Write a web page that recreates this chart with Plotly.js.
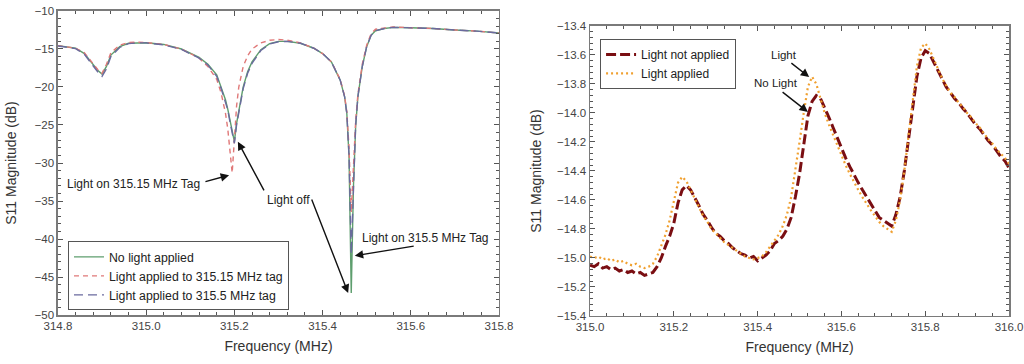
<!DOCTYPE html>
<html>
<head>
<meta charset="utf-8">
<script src="https://cdn.plot.ly/plotly-3.0.1.min.js"></script>
<style>html,body{margin:0;padding:0;background:#fff;}#chart{width:1024px;height:364px;}</style>
</head>
<body>
<div id="chart"></div>
<script>
// ---------- Left panel data (S11 vs frequency, three conditions) ----------
const freqLeft = [314.80,314.82,314.84,314.86,314.88,314.89,314.90,314.91,314.92,314.94,
  314.96,314.98,315.00,315.04,315.08,315.12,315.14,315.16,315.17,315.18,
  315.185,315.19,315.195,315.20,315.205,315.21,315.22,315.23,315.24,315.26,
  315.28,315.30,315.32,315.35,315.38,315.40,315.42,315.44,315.45,315.455,
  315.46,315.465,315.47,315.475,315.48,315.49,315.50,315.51,315.52,315.54,
  315.56,315.60,315.65,315.70,315.75,315.80];
const noLight = [-14.56,-14.7,-14.9,-15.6,-17.1,-17.8,-18.3,-17.3,-15.8,-14.7,
  -14.25,-14.17,-14.17,-14.4,-15.0,-16.1,-17.0,-18.4,-20.0,-21.7,
  -22.9,-24.3,-25.8,-27.2,-24.8,-23.0,-20.0,-18.0,-16.7,-15.1,
  -14.3,-14.0,-14.0,-14.25,-14.9,-15.6,-16.7,-19.1,-21.3,-23.5,
  -29.2,-47.1,-33.1,-25.2,-21.3,-17.3,-14.7,-13.2,-12.6,-12.3,
  -12.15,-12.2,-12.3,-12.5,-12.65,-12.9];
const light31515 = [-14.55,-14.7,-14.9,-15.5,-17.0,-17.7,-18.2,-17.0,-15.5,-14.5,
  -14.15,-14.1,-14.15,-14.4,-15.0,-16.2,-17.3,-19.0,-20.8,-23.5,
  -25.5,-28.5,-31.3,-27.0,-22.5,-20.0,-17.3,-15.9,-15.0,-14.2,
  -13.85,-13.75,-13.85,-14.2,-14.9,-15.6,-16.7,-19.0,-21.2,-23.3,
  -28.0,-36.5,-30.0,-24.5,-21.0,-17.0,-14.5,-13.0,-12.4,-12.2,
  -12.1,-12.2,-12.3,-12.5,-12.65,-12.9];
const light3155 = [-14.6,-14.75,-14.95,-15.7,-17.3,-18.0,-18.6,-17.6,-16.0,-14.8,
  -14.3,-14.2,-14.2,-14.45,-15.05,-16.2,-17.1,-18.6,-20.2,-22.0,
  -23.0,-24.6,-26.0,-27.4,-25.0,-23.2,-20.2,-18.2,-16.9,-15.2,
  -14.35,-14.05,-14.0,-14.25,-14.9,-15.6,-16.7,-19.1,-21.3,-23.5,
  -29.0,-42.0,-32.0,-25.0,-21.3,-17.3,-14.7,-13.2,-12.6,-12.3,
  -12.15,-12.2,-12.3,-12.5,-12.65,-12.9];
const leftNames = ["No light applied","Light applied to 315.15 MHz tag","Light applied to 315.5 MHz tag"];

// ---------- Right panel data ----------
const freqRight = [315.00,315.01,315.02,315.03,315.04,315.05,315.06,315.07,315.08,315.09,
  315.10,315.11,315.12,315.13,315.14,315.15,315.16,315.17,315.18,315.19,
  315.20,315.21,315.22,315.23,315.24,315.25,315.26,315.27,315.28,315.29,
  315.30,315.31,315.32,315.33,315.34,315.35,315.36,315.37,315.38,315.39,
  315.40,315.41,315.42,315.43,315.44,315.45,315.46,315.47,315.48,315.49,
  315.50,315.51,315.52,315.53,315.54,315.55,315.56,315.57,315.58,315.59,
  315.60,315.61,315.62,315.63,315.64,315.65,315.66,315.67,315.68,315.69,
  315.70,315.71,315.72,315.73,315.74,315.75,315.76,315.77,315.78,315.79,
  315.80,315.81,315.82,315.83,315.84,315.85,315.86,315.87,315.88,315.89,
  315.90,315.91,315.92,315.93,315.94,315.95,315.96,315.97,315.98,315.99,316.00];
const lightNotApplied = [-15.05,-15.06,-15.04,-15.07,-15.06,-15.08,-15.07,-15.09,-15.08,-15.10,
  -15.09,-15.11,-15.10,-15.12,-15.11,-15.10,-15.06,-15.00,-14.92,-14.85,
  -14.76,-14.62,-14.53,-14.50,-14.53,-14.58,-14.64,-14.70,-14.74,-14.79,
  -14.83,-14.85,-14.88,-14.90,-14.93,-14.95,-14.97,-14.98,-15.00,-14.99,
  -15.02,-15.00,-14.98,-14.95,-14.90,-14.88,-14.85,-14.80,-14.72,-14.58,
  -14.42,-14.22,-14.02,-13.92,-13.88,-13.90,-13.96,-14.03,-14.10,-14.17,
  -14.25,-14.31,-14.37,-14.43,-14.48,-14.53,-14.58,-14.63,-14.67,-14.72,
  -14.74,-14.76,-14.78,-14.70,-14.58,-14.40,-14.18,-13.95,-13.75,-13.62,
  -13.57,-13.59,-13.65,-13.71,-13.77,-13.82,-13.86,-13.90,-13.93,-13.97,
  -14.00,-14.04,-14.08,-14.11,-14.15,-14.19,-14.22,-14.26,-14.30,-14.33,-14.38];
const lightApplied = [-14.99,-15.00,-14.99,-15.01,-15.00,-15.02,-15.01,-15.03,-15.02,-15.04,
  -15.05,-15.04,-15.06,-15.07,-15.06,-15.04,-14.99,-14.92,-14.84,-14.74,
  -14.60,-14.48,-14.44,-14.47,-14.53,-14.59,-14.65,-14.71,-14.75,-14.80,
  -14.83,-14.86,-14.89,-14.91,-14.93,-14.95,-14.97,-14.99,-15.00,-15.01,
  -15.00,-14.99,-14.96,-14.92,-14.88,-14.84,-14.78,-14.70,-14.58,-14.40,
  -14.20,-14.00,-13.82,-13.75,-13.80,-13.90,-14.00,-14.08,-14.15,-14.22,
  -14.30,-14.36,-14.42,-14.48,-14.53,-14.58,-14.63,-14.67,-14.71,-14.75,
  -14.78,-14.80,-14.82,-14.74,-14.60,-14.40,-14.15,-13.90,-13.68,-13.55,
  -13.52,-13.56,-13.63,-13.70,-13.76,-13.81,-13.86,-13.89,-13.93,-13.96,
  -14.00,-14.03,-14.07,-14.10,-14.14,-14.18,-14.21,-14.25,-14.28,-14.31,-14.35];
const rightNames = ["Light not applied","Light applied"];

// ---------- Traces ----------
const traces = [
  {x:freqLeft, y:noLight, name:leftNames[0], type:'scatter', mode:'lines',
   line:{color:'#5e9e6e', width:1.4}, xaxis:'x', yaxis:'y', legend:'legend'},
  {x:freqLeft, y:light31515, name:leftNames[1], type:'scatter', mode:'lines',
   line:{color:'#e07878', width:1.4, dash:'5px,4px'}, xaxis:'x', yaxis:'y', legend:'legend'},
  {x:freqLeft, y:light3155, name:leftNames[2], type:'scatter', mode:'lines',
   line:{color:'#6a6a9e', width:1.4, dash:'9px,5px'}, xaxis:'x', yaxis:'y', legend:'legend'},
  {x:freqRight, y:lightNotApplied, name:rightNames[0], type:'scatter', mode:'lines',
   line:{color:'#7a0e12', width:3, dash:'10px,4px'}, xaxis:'x2', yaxis:'y2', legend:'legend2'},
  {x:freqRight, y:lightApplied, name:rightNames[1], type:'scatter', mode:'lines',
   line:{color:'#f0a030', width:2.2, dash:'2px,3px'}, xaxis:'x2', yaxis:'y2', legend:'legend2'}
];

const FONT = '"Liberation Sans", Arial, sans-serif';
function axisBase(extra){
  return Object.assign({
    showline:true, linecolor:'#7a7a7a', linewidth:1.5, mirror:'allticks',
    ticks:'inside', ticklen:5, tickwidth:1, tickcolor:'#555',
    showgrid:false, zeroline:false,
    tickfont:{family:FONT, size:11.5, color:'#444'}
  }, extra);
}

function arrow(xr, yr, hx, hy, tx, ty){
  return {xref:xr, yref:yr, axref:xr, ayref:yr, x:hx, y:hy, ax:tx, ay:ty,
    text:'', showarrow:true, arrowhead:2, arrowsize:1.2, arrowwidth:1.4, arrowcolor:'#111'};
}
function label(xr, yr, x, y, t, sz){
  return {xref:xr, yref:yr, x:x, y:y, text:t, showarrow:false,
    font:{family:FONT, size:sz, color:'#222'}, xanchor:'center', yanchor:'middle'};
}

const layout = {
  width:1024, height:364,
  margin:{l:0, r:0, t:0, b:0},
  paper_bgcolor:'#fff', plot_bgcolor:'#fff',
  font:{family:FONT, color:'#333'},
  showlegend:true,
  xaxis: axisBase({domain:[0.0566,0.4873], range:[314.8,315.8], dtick:0.2, tick0:314.8, tickformat:'.1f',
    minor:{dtick:0.04, ticks:'inside', ticklen:3, tickcolor:'#555'},
    title:{text:'Frequency (MHz)', font:{family:FONT, size:14, color:'#333'}, standoff:10},
    anchor:'y'}),
  yaxis: axisBase({domain:[0.1346,0.9698], range:[-50,-10], dtick:5, tickformat:'d',
    minor:{dtick:1, ticks:'inside', ticklen:3, tickcolor:'#555'},
    title:{text:'S11 Magnitude (dB)', font:{family:FONT, size:14, color:'#333'}, standoff:14},
    anchor:'x'}),
  xaxis2: axisBase({domain:[0.5762,0.9854], range:[315,316], dtick:0.2, tick0:315, tickformat:'.1f',
    minor:{dtick:0.04, ticks:'inside', ticklen:3, tickcolor:'#555'},
    title:{text:'Frequency (MHz)', font:{family:FONT, size:14, color:'#333'}, standoff:10},
    anchor:'y2'}),
  yaxis2: axisBase({domain:[0.1319,0.9286], range:[-15.4,-13.4], dtick:0.2, tickformat:'.1f',
    minor:{dtick:0.04, ticks:'inside', ticklen:3, tickcolor:'#555'},
    title:{text:'S11 Magnitude (dB)', font:{family:FONT, size:14, color:'#333'}, standoff:12},
    anchor:'x2'}),
  legend:{x:0.0664, y:0.337, xanchor:'left', yanchor:'top', bgcolor:'#fff',
    bordercolor:'#555', borderwidth:1, font:{family:FONT, size:12.3, color:'#222'}},
  legend2:{x:0.586, y:0.893, xanchor:'left', yanchor:'top', bgcolor:'#fff',
    bordercolor:'#555', borderwidth:1, font:{family:FONT, size:12, color:'#222'}},
  annotations:[
    label('x','y',314.972,-32.8,'Light on 315.15 MHz Tag',12),
    arrow('x','y',315.188,-31.6,315.131,-32.5),
    label('x','y',315.322,-34.9,'Light off',12),
    arrow('x','y',315.208,-27.2,315.269,-33.8),
    arrow('x','y',315.458,-47.1,315.374,-34.6),
    label('x','y',315.634,-39.9,'Light on 315.5 MHz Tag',12),
    arrow('x','y',315.473,-42.2,315.610,-40.9),
    label('x2','y2',315.463,-13.60,'Light',11.5),
    arrow('x2','y2',315.523,-13.752,315.477,-13.648),
    label('x2','y2',315.444,-13.793,'No Light',11.5),
    arrow('x2','y2',315.520,-13.993,315.456,-13.848)
  ]
};

Plotly.newPlot('chart', traces, layout, {displayModeBar:false, staticPlot:true});
</script>
</body>
</html>
